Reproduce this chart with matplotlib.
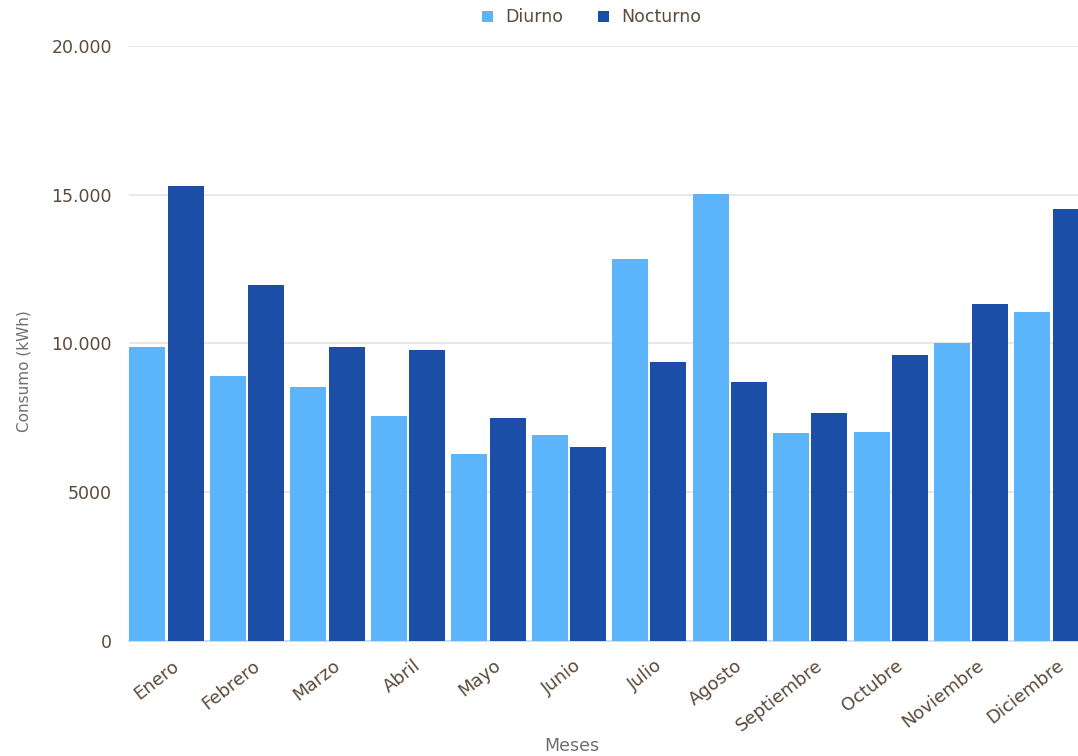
import matplotlib
matplotlib.use("Agg")
import matplotlib.pyplot as plt
import matplotlib.transforms as mtransforms
from matplotlib.patches import Patch
import numpy as np

# Monthly electricity consumption (kWh), day vs night
meses = ["Enero", "Febrero", "Marzo", "Abril", "Mayo", "Junio", "Julio",
         "Agosto", "Septiembre", "Octubre", "Noviembre", "Diciembre"]
diurno = [9890, 8910, 8520, 7550, 6260, 6910, 12830, 15020, 6990, 7000, 10010, 11060]
nocturno = [15300, 11950, 9890, 9780, 7480, 6520, 9370, 8690, 7640, 9600, 11330, 14500]
y_ticks = [0, 5000, 10000, 15000, 20000]
y_tick_labels = ["0", "5000", "10.000", "15.000", "20.000"]

COLOR_DIURNO = "#5cb4fa"
COLOR_NOCTURNO = "#1b4ea7"
TEXT_COLOR = "#5c4a3b"
TITLE_COLOR = "#6e6e6e"
GRID_COLOR = "#e6e6e6"

plt.rcParams["font.family"] = ["DejaVu Sans"]

W, H = 1078, 756
fig = plt.figure(figsize=(W / 100, H / 100), dpi=100)
fig.patch.set_facecolor("white")

# plot area in pixels (it runs slightly past the right edge of the canvas)
left_px, bottom_px, top_px = 129.3, 640.5, 46.0
pitch_px = 80.47
ax = fig.add_axes([left_px / W, (H - bottom_px) / H,
                   12 * pitch_px / W, (bottom_px - top_px) / H])

x = np.arange(len(meses))
bar_w = 36 / pitch_px
gap = 2.4 / pitch_px
off = gap / 2 + bar_w / 2

ax.bar(x - off, diurno, width=bar_w, color=COLOR_DIURNO, zorder=3, linewidth=0)
ax.bar(x + off, nocturno, width=bar_w, color=COLOR_NOCTURNO, zorder=3, linewidth=0)

ax.set_xlim(-0.462, 11.538)
ax.set_ylim(0, 20000)

ax.set_yticks(y_ticks)
ax.set_yticklabels(y_tick_labels)
ax.yaxis.grid(True, color=GRID_COLOR, linewidth=1.3, zorder=0)
ax.tick_params(axis="y", length=0, pad=12.5, labelsize=12.5, labelcolor=TEXT_COLOR)

ax.set_xticks(x)
ax.set_xticklabels(meses, rotation=38, ha="right", va="top", rotation_mode="anchor")
ax.tick_params(axis="x", length=0, pad=13, labelsize=13, labelcolor=TEXT_COLOR)
shift = mtransforms.ScaledTranslation(0.05, 0.02, fig.dpi_scale_trans)
for lbl in ax.get_xticklabels():
    lbl.set_transform(lbl.get_transform() + shift)

for side in ["top", "right", "left"]:
    ax.spines[side].set_visible(False)
ax.spines["bottom"].set_color("#d9d9d9")
ax.spines["bottom"].set_linewidth(1.3)
ax.set_facecolor("white")

# axis titles
fig.text(572 / W, 1 - 746 / H, "Meses", ha="center", va="center",
         fontsize=12.5, color=TITLE_COLOR)
fig.text(24 / W, 1 - 371 / H, "Consumo (kWh)", ha="center", va="center",
         rotation=90, fontsize=11, color=TITLE_COLOR)

# legend
handles = [Patch(facecolor=COLOR_DIURNO, edgecolor="none", label="Diurno"),
           Patch(facecolor=COLOR_NOCTURNO, edgecolor="none", label="Nocturno")]
leg = fig.legend(handles=handles, loc="center", ncol=2,
                 bbox_to_anchor=(591.7 / W, 1 - 17.5 / H),
                 frameon=False, fontsize=12.5, handlelength=0.65,
                 handleheight=0.55, handletextpad=0.7, columnspacing=2.0,
                 borderpad=0, borderaxespad=0)
for t in leg.get_texts():
    t.set_color(TEXT_COLOR)

fig.savefig("out.png", dpi=100, facecolor="white")
